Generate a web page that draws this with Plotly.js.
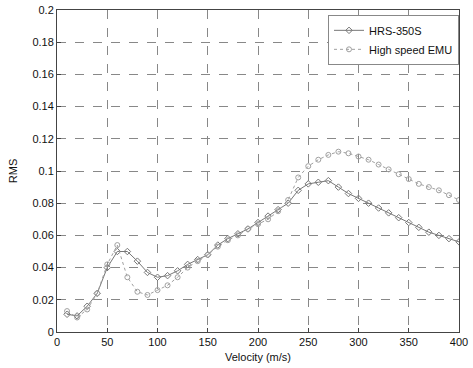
<!DOCTYPE html>
<html>
<head>
<meta charset="utf-8">
<script src="https://cdn.plot.ly/plotly-3.0.1.min.js"></script>
<style>html,body{margin:0;padding:0;background:#fff;}#chart{width:473px;height:368px;}</style>
</head>
<body>
<div id="chart"></div>
<script>
const velocity = [10,20,30,40,50,60,70,80,90,100,110,120,130,140,150,160,170,180,190,200,210,220,230,240,250,260,270,280,290,300,310,320,330,340,350,360,370,380,390,400];
const hrs350s = [0.011,0.010,0.016,0.024,0.040,0.050,0.050,0.044,0.037,0.034,0.035,0.038,0.042,0.045,0.048,0.054,0.058,0.061,0.064,0.068,0.072,0.076,0.080,0.088,0.092,0.093,0.094,0.090,0.086,0.083,0.080,0.077,0.074,0.071,0.068,0.065,0.062,0.060,0.058,0.056];
const emu = [0.013,0.009,0.014,0.024,0.042,0.054,0.034,0.025,0.023,0.026,0.029,0.034,0.040,0.044,0.048,0.053,0.057,0.060,0.064,0.067,0.070,0.075,0.082,0.096,0.103,0.107,0.110,0.112,0.111,0.109,0.107,0.104,0.101,0.098,0.095,0.092,0.090,0.088,0.085,0.082];
const seriesNames = ['HRS-350S','High speed EMU'];
const xTicks = [0,50,100,150,200,250,300,350,400];
const yTicks = [0,0.02,0.04,0.06,0.08,0.1,0.12,0.14,0.16,0.18,0.2];
const yTickText = ['0','0.02','0.04','0.06','0.08','0.1','0.12','0.14','0.16','0.18','0.2'];

const traces = [
  {x: velocity, y: hrs350s, name: seriesNames[0], mode: 'lines+markers',
   line: {color: '#777', width: 1},
   marker: {symbol: 'diamond-open', size: 5, color: '#777', line: {width: 1}}},
  {x: velocity, y: emu, name: seriesNames[1], mode: 'lines+markers',
   line: {color: '#a0a0a0', width: 1, dash: 'dot'},
   marker: {symbol: 'circle-open', size: 5, color: '#a0a0a0', line: {width: 1}}}
];

const axisCommon = {
  showline: true, mirror: true, linecolor: '#444', linewidth: 1,
  ticks: 'inside', ticklen: 4, tickcolor: '#444',
  showgrid: true, gridcolor: '#888', griddash: 'dash', gridwidth: 1,
  zeroline: false,
  tickfont: {family: 'Liberation Sans, Arial, sans-serif', size: 11, color: '#111'}
};

const layout = {
  width: 473, height: 368,
  margin: {l: 57, r: 14, t: 10, b: 36},
  paper_bgcolor: '#fff', plot_bgcolor: '#fff',
  showlegend: true,
  legend: {x: 1, xanchor: 'right', y: 0.985, yanchor: 'top',
    bgcolor: '#fff', bordercolor: '#888', borderwidth: 1,
    itemwidth: 30,
    font: {family: 'Liberation Sans, Arial, sans-serif', size: 11, color: '#111'},
    tracegroupgap: 0},
  xaxis: Object.assign({}, axisCommon, {
    range: [0, 400], tickvals: xTicks,
    title: {text: 'Velocity (m/s)', standoff: 6, font: {family: 'Liberation Sans, Arial, sans-serif', size: 11, color: '#111'}}
  }),
  yaxis: Object.assign({}, axisCommon, {
    range: [0, 0.2], tickvals: yTicks, ticktext: yTickText,
    title: {text: 'RMS', standoff: 12, font: {family: 'Liberation Sans, Arial, sans-serif', size: 11, color: '#111'}}
  })
};

Plotly.newPlot('chart', traces, layout, {displayModeBar: false, staticPlot: true});
</script>
</body>
</html>
